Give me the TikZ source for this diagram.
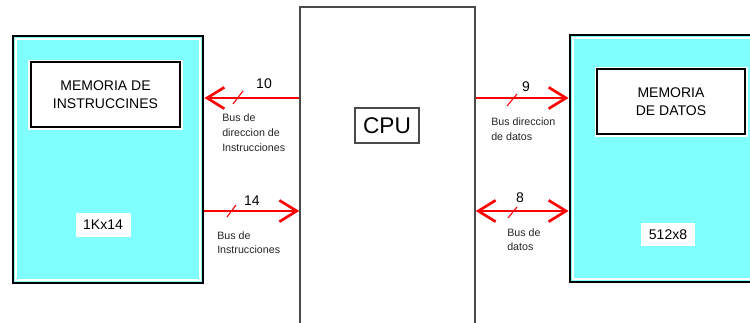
\documentclass[tikz,border=0pt]{standalone}
\usepackage{fontspec}
\setmainfont{Liberation Sans}
\usetikzlibrary{arrows.meta}
\definecolor{memcyan}{HTML}{80FFFF}
\definecolor{busred}{HTML}{FF0000}
\definecolor{cpugray}{HTML}{4A4A4A}
\begin{document}
\begin{tikzpicture}[x=0.75pt,y=-0.75pt,
  membox/.style={draw=black,line width=2.2pt,fill=memcyan,minimum width=142.5pt,minimum height=185.25pt,inner sep=0pt},
  titlebox/.style={draw=black,line width=1.3pt,fill=white,minimum width=111.75pt,minimum height=48.75pt,inner sep=0pt,align=center,font=\fontsize{10.5}{13.5}\selectfont},
  sizebox/.style={fill=white,inner sep=0pt,font=\fontsize{10.5}{13}\selectfont},
  cpubox/.style={draw=cpugray,line width=1.1pt,fill=white,minimum width=131.25pt,minimum height=242.25pt,inner sep=0pt},
  cpulabel/.style={draw=cpugray,line width=1.1pt,minimum width=48pt,minimum height=26.25pt,inner sep=0pt,font=\fontsize{17}{20}\selectfont},
  bus/.style={draw=busred,line width=2.2pt},
  busend/.style={-{Straight Barb[length=13pt,width=16pt,line width=2pt]}},
  busboth/.style={{Straight Barb[length=13pt,width=16pt,line width=2pt]}-{Straight Barb[length=13pt,width=16pt,line width=2pt]}},
  tick/.style={draw=busred,line width=0.8pt},
  num/.style={inner sep=0pt,font=\fontsize{10.5}{12}\selectfont},
  small/.style={inner sep=0pt,align=left,font=\fontsize{8}{10.9}\selectfont,text=black!85}
]
\useasboundingbox (0,0) rectangle (750,322);
\clip (0,0) rectangle (750,322);
\fill[white] (0,0) rectangle (750,322);

% CPU
\node[cpubox] (cpu) at (387.5,168.5) {};
\node[cpulabel] (cpulbl) at (387,125.5) {CPU};

% left memory
\node[membox] (lm) at (108,159.5) {};
\draw[white,line width=0.8pt] (16,39) rectangle (200,280);
\fill[white] (28,60) rectangle (183,130);
\node[titlebox] (lmt) at (105.5,94.5) {MEMORIA DE\\INSTRUCCINES};
\node[sizebox,minimum width=41.25pt,minimum height=18pt] (lms) at (103,225) {1Kx14};

% right memory
\node[membox,minimum width=146.25pt] (rm) at (667.5,158.5) {};
\draw[white,line width=0.8pt] (573,38) rectangle (770,279);
\fill[white] (595,67) rectangle (748,137);
\node[titlebox,minimum width=111pt] (rmt) at (671,101.5) {MEMORIA\\DE DATOS};
\node[sizebox,minimum width=40.5pt,minimum height=17.25pt] (rms) at (668,234.5) {512x8};

% buses
\coordinate (c1) at (cpu.west |- 0,98);
\coordinate (c2) at (cpu.west |- 0,211);
\coordinate (c3) at (cpu.east |- 0,98);
\coordinate (c4) at (cpu.east |- 0,211);
\coordinate (m1) at (lm.east |- 0,98);
\coordinate (m2) at (lm.east |- 0,211);
\coordinate (m3) at (rm.west |- 0,98);
\coordinate (m4) at (rm.west |- 0,211);

\draw[bus,busend] (c1) -- (m1);
\draw[bus,busend] (m2) -- (c2);
\draw[bus,busend] (c3) -- (m3);
\draw[bus,busboth] (c4) -- (m4);

% ticks
\draw[tick] (233,104) -- (243,91);
\draw[tick] (227,217) -- (236,205);
\draw[tick] (507,106) -- (517,94);
\draw[tick] (508,218) -- (517,207);

% numbers
\node[num] (n10) at (264,84) {10};
\node[num] (n14) at (252,201) {14};
\node[num] (n9) at (526,87) {9};
\node[num] (n8) at (520,198) {8};

% bus labels
\node[small,anchor=north west] (l1) at (222,114) {Bus de\\direccion de\\Instrucciones};
\node[small,anchor=north west] (l2) at (217,231) {Bus de\\Instrucciones};
\node[small,anchor=north west] (l3) at (491,118) {Bus direccion\\de datos};
\node[small,anchor=north west] (l4) at (507,228) {Bus de\\datos};
\end{tikzpicture}
\end{document}
